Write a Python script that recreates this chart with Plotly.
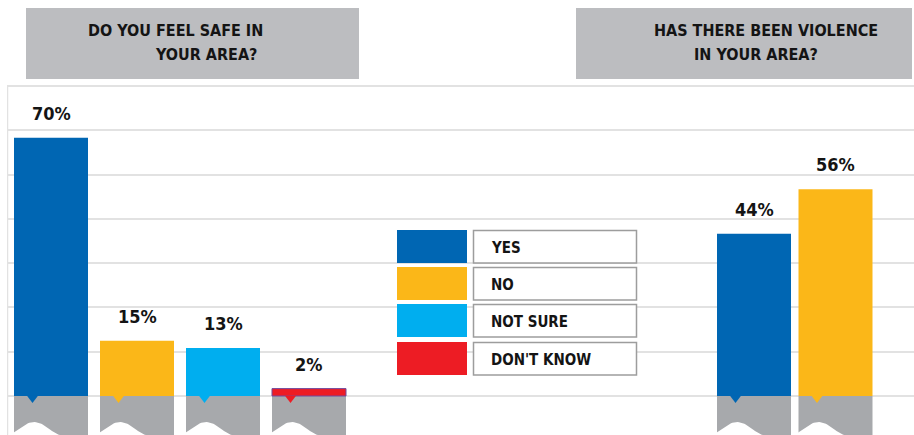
import numpy as np
import plotly.graph_objects as go

# ---- data -------------------------------------------------------------
safe_categories = ["YES", "NO", "NOT SURE", "DON'T KNOW"]
safe_values = [70, 15, 13, 2]

violence_categories = ["YES", "NO"]
violence_values = [44, 56]

legend_categories = ["YES", "NO", "NOT SURE", "DON'T KNOW"]

safe_title = ["DO YOU FEEL SAFE IN", "YOUR AREA?"]
violence_title = ["HAS THERE BEEN VIOLENCE", "IN YOUR AREA?"]

# ---- styling / layout constants ---------------------------------------
W, H = 914, 435
COLORS = {"YES": "#0066b3", "NO": "#fbb718", "NOT SURE": "#00aeef", "DON'T KNOW": "#ed1c24"}
STAND = "#a7a9ac"
TITLE_BG = "#bcbdc0"
GRID = "#e2e2e2"
INK = "#141414"
FONT = "Liberation Sans Narrow, DejaVu Sans Condensed, sans-serif"

PX_PER_UNIT = 3.69      # vertical pixels per percentage point
ZERO_PX = 396           # pixel row of the baseline
Y_MIN = -(H - ZERO_PX) / PX_PER_UNIT
Y_MAX = ZERO_PX / PX_PER_UNIT
BAR_W = 74
AXIS_LEFT = 7

# bar slots for each panel: first bar's left edge and slot pitch
left_start, left_pitch = 14, 86
right_start, right_pitch = 717, 81.5
safe_x = [left_start + BAR_W / 2 + i * left_pitch for i in range(len(safe_values))]
viol_x = [right_start + BAR_W / 2 + i * right_pitch for i in range(len(violence_values))]

all_x = safe_x + viol_x
all_vals = safe_values + violence_values
all_cats = safe_categories + violence_categories
all_cols = [COLORS[c] for c in all_cats]

fig = go.Figure()

# grey stands under every bar
fig.add_trace(go.Bar(
    x=all_x, y=[Y_MIN - 1] * len(all_x), base=0, width=BAR_W,
    marker=dict(color=STAND, line=dict(width=0)),
    hoverinfo="skip", showlegend=False,
))

# coloured bars (the red one carries a thin purple edge)
edge_cols = ["#6f4a9e" if c == "DON'T KNOW" else "rgba(0,0,0,0)" for c in all_cats]
fig.add_trace(go.Bar(
    x=all_x, y=all_vals, width=BAR_W,
    marker=dict(color=all_cols, line=dict(color=edge_cols, width=1)),
    hoverinfo="skip", showlegend=False,
))

# small pointer notch hanging from each bar into its stand
notch_h = 7 / PX_PER_UNIT
for cx, col in zip(all_x, all_cols):
    nx = cx - BAR_W / 2 + 18.5
    fig.add_trace(go.Scatter(
        x=[nx - 5.5, nx + 5.5, nx, nx - 5.5], y=[0.05, 0.05, -notch_h, 0.05],
        fill="toself", fillcolor=col, mode="lines", line=dict(width=0, color=col),
        hoverinfo="skip", showlegend=False,
    ))

# wavy cut-out at the foot of each stand
t = np.linspace(0, 1, 40)
wave_h = 13 / PX_PER_UNIT
for cx in all_x:
    left = cx - BAR_W / 2
    wx = left - 6 + t * 52
    wy = Y_MIN + wave_h * np.sin(np.pi * t) ** 1.5
    xs = np.concatenate([wx, [wx[-1], wx[0]]])
    ys = np.concatenate([wy, [Y_MIN - 1, Y_MIN - 1]])
    fig.add_trace(go.Scatter(
        x=xs, y=ys, fill="toself", fillcolor="white", mode="lines",
        line=dict(width=0, color="white"), hoverinfo="skip", showlegend=False,
    ))

# value labels above bars
for cx, v in zip(all_x, all_vals):
    fig.add_annotation(
        x=cx, y=v, text=f"{v}%", showarrow=False, yanchor="bottom", yshift=12,
        font=dict(family=FONT, size=18, color=INK, weight="bold"),
    )

# left frame line
fig.add_shape(type="line", xref="x", yref="y", x0=AXIS_LEFT + 0.5, x1=AXIS_LEFT + 0.5,
              y0=Y_MIN - 1, y1=84, line=dict(color=GRID, width=1.5), layer="below")

def px_x(p):
    return p / W

def px_y(p):
    return 1 - p / H

# title panels
for (x0, x1), lines, offs in [((26, 359), safe_title, (86, 153)),
                              ((576, 912), violence_title, (652, 692))]:
    fig.add_shape(type="rect", xref="paper", yref="paper",
                  x0=px_x(x0), x1=px_x(x1), y0=px_y(79), y1=px_y(8),
                  fillcolor=TITLE_BG, line=dict(width=0))
    for txt, lx, cy in zip(lines, offs, (31, 55)):
        fig.add_annotation(xref="paper", yref="paper", x=px_x(lx), y=px_y(cy),
                           xanchor="left", yanchor="middle", showarrow=False, text=txt,
                           font=dict(family=FONT, size=16, color=INK, weight="bold"))

# legend block in the middle
row_tops = [230, 267, 304, 342]
row_h = 33
for cat, top in zip(legend_categories, row_tops):
    fig.add_shape(type="rect", xref="paper", yref="paper",
                  x0=px_x(397), x1=px_x(467), y0=px_y(top + row_h), y1=px_y(top),
                  fillcolor=COLORS[cat], line=dict(width=0))
    fig.add_shape(type="rect", xref="paper", yref="paper",
                  x0=px_x(473.5), x1=px_x(636.5), y0=px_y(top + row_h), y1=px_y(top + 0.5),
                  fillcolor="white", line=dict(color="#9d9d9d", width=1.5))
    fig.add_annotation(xref="paper", yref="paper", x=px_x(489), y=px_y(top + row_h / 2 + 1),
                       xanchor="left", yanchor="middle", showarrow=False, text=cat,
                       font=dict(family=FONT, size=15, color=INK, weight="bold"))

fig.update_layout(
    width=W, height=H, margin=dict(l=0, r=0, t=0, b=0),
    paper_bgcolor="white", plot_bgcolor="white",
    barmode="overlay", showlegend=False,
    xaxis=dict(range=[AXIS_LEFT, W], domain=[AXIS_LEFT / W, 1], visible=False, fixedrange=True),
    yaxis=dict(range=[Y_MIN, Y_MAX], tickvals=list(range(0, 85, 12)), showticklabels=False,
               showgrid=True, gridcolor=GRID, gridwidth=2, zeroline=False, showline=False,
               ticks="", fixedrange=True),
    font=dict(family=FONT),
)

fig.write_html("out.html", config={"displayModeBar": False})
